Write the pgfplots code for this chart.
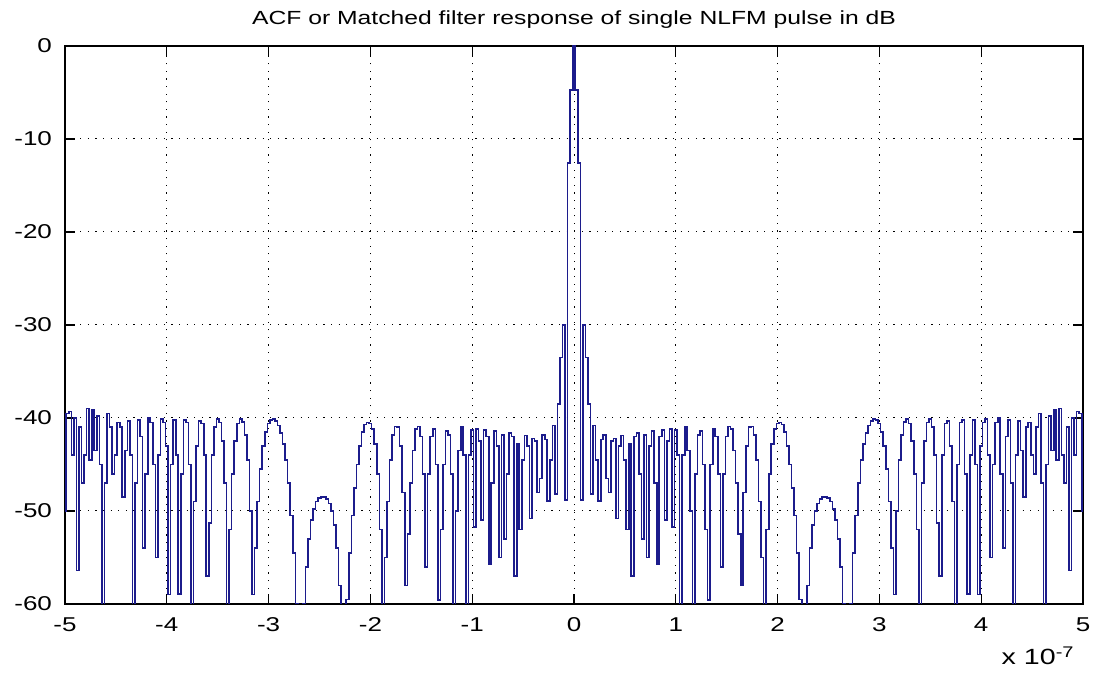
\documentclass[border=0pt]{standalone}
\usepackage{pgfplots}
\pgfplotsset{compat=1.18}
\usepackage{pgfplotstable}
\usepackage{fontspec}
\setmainfont{Liberation Sans}[FakeStretch=1.3]
\definecolor{matblue}{RGB}{28,28,140}

\pgfplotstableread{
xr xl y
0.000 -0.000 0
0.025 -0.025 -4.7
0.050 -0.050 -12.6
0.075 -0.075 -48.8
0.100 -0.100 -30.0
0.125 -0.125 -33.5
0.150 -0.150 -38.5
0.175 -0.175 -48.2
0.200 -0.200 -40.8
0.225 -0.225 -44.5
0.250 -0.250 -48.9
0.275 -0.275 -42.3
0.300 -0.300 -41.8
0.325 -0.325 -46.5
0.350 -0.350 -48.0
0.375 -0.375 -42.5
0.400 -0.400 -42.2
0.425 -0.425 -50.8
0.450 -0.450 -43.0
0.475 -0.475 -41.9
0.500 -0.500 -44.5
0.525 -0.525 -52.0
0.550 -0.550 -42.8
0.575 -0.575 -57.0
0.600 -0.600 -42.0
0.625 -0.625 -41.6
0.650 -0.650 -46.0
0.675 -0.675 -53.0
0.700 -0.700 -41.8
0.725 -0.725 -55.0
0.750 -0.750 -43.0
0.775 -0.775 -41.4
0.800 -0.800 -47.0
0.825 -0.825 -55.7
0.850 -0.850 -42.0
0.875 -0.875 -41.3
0.900 -0.900 -51.0
0.925 -0.925 -42.5
0.950 -0.950 -41.2
0.975 -0.975 -51.7
1.000 -1.000 -41.3
1.025 -1.025 -44.0
1.050 -1.050 -62.0
1.075 -1.075 -44.0
1.100 -1.100 -41.0
1.125 -1.125 -43.5
1.150 -1.150 -50.0
1.175 -1.175 -62.0
1.200 -1.200 -46.0
1.225 -1.225 -41.8
1.250 -1.250 -41.4
1.275 -1.275 -45.0
1.300 -1.300 -52.0
1.325 -1.325 -59.6
1.350 -1.350 -45.0
1.375 -1.375 -41.2
1.400 -1.400 -42.0
1.425 -1.425 -46.0
1.450 -1.450 -56.0
1.475 -1.475 -46.0
1.500 -1.500 -42.0
1.525 -1.525 -40.9
1.550 -1.550 -41.2
1.575 -1.575 -43.5
1.600 -1.600 -47.0
1.625 -1.625 -52.5
1.650 -1.650 -58.0
1.675 -1.675 -48.0
1.700 -1.700 -43.0
1.725 -1.725 -41.0
1.750 -1.750 -40.9
1.775 -1.775 -41.8
1.800 -1.800 -44.5
1.825 -1.825 -49.0
1.850 -1.850 -55.0
1.875 -1.875 -63.0
1.900 -1.900 -52.0
1.925 -1.925 -46.0
1.950 -1.950 -42.8
1.975 -1.975 -41.2
2.000 -2.000 -40.6
2.025 -2.025 -40.5
2.050 -2.050 -40.7
2.075 -2.075 -41.5
2.100 -2.100 -43.0
2.125 -2.125 -45.0
2.150 -2.150 -47.5
2.175 -2.175 -50.5
2.200 -2.200 -54.5
2.225 -2.225 -59.5
2.250 -2.250 -65.0
2.275 -2.275 -65.0
2.300 -2.300 -58.0
2.325 -2.325 -54.0
2.350 -2.350 -51.5
2.375 -2.375 -50.0
2.400 -2.400 -49.2
2.425 -2.425 -48.7
2.450 -2.450 -48.5
2.475 -2.475 -48.5
2.500 -2.500 -48.6
2.525 -2.525 -49.0
2.550 -2.550 -49.8
2.575 -2.575 -51.0
2.600 -2.600 -53.0
2.625 -2.625 -56.0
2.650 -2.650 -60.0
2.675 -2.675 -65.0
2.700 -2.700 -65.0
2.725 -2.725 -60.0
2.750 -2.750 -54.5
2.775 -2.775 -50.5
2.800 -2.800 -47.0
2.825 -2.825 -44.5
2.850 -2.850 -42.8
2.875 -2.875 -41.6
2.900 -2.900 -40.8
2.925 -2.925 -40.3
2.950 -2.950 -40.1
2.975 -2.975 -40.2
3.000 -3.000 -40.6
3.025 -3.025 -41.5
3.050 -3.050 -43.0
3.075 -3.075 -45.5
3.100 -3.100 -49.0
3.125 -3.125 -54.0
3.150 -3.150 -59.0
3.175 -3.175 -50.0
3.200 -3.200 -44.5
3.225 -3.225 -41.8
3.250 -3.250 -40.4
3.275 -3.275 -40.1
3.300 -3.300 -40.6
3.325 -3.325 -42.5
3.350 -3.350 -46.0
3.375 -3.375 -52.0
3.400 -3.400 -63.0
3.425 -3.425 -47.0
3.450 -3.450 -42.5
3.475 -3.475 -40.5
3.500 -3.500 -40.1
3.525 -3.525 -41.0
3.550 -3.550 -44.0
3.575 -3.575 -51.3
3.600 -3.600 -57.0
3.625 -3.625 -44.0
3.650 -3.650 -40.6
3.675 -3.675 -40.3
3.700 -3.700 -43.0
3.725 -3.725 -49.0
3.750 -3.750 -63.0
3.775 -3.775 -45.0
3.800 -3.800 -40.5
3.825 -3.825 -40.2
3.850 -3.850 -46.0
3.875 -3.875 -58.9
3.900 -3.900 -44.0
3.925 -3.925 -40.2
3.950 -3.950 -45.0
3.975 -3.975 -59.0
4.000 -4.000 -43.0
4.025 -4.025 -40.5
4.050 -4.050 -40.1
4.075 -4.075 -44.0
4.100 -4.100 -55.0
4.125 -4.125 -45.0
4.150 -4.150 -40.5
4.175 -4.175 -40.0
4.200 -4.200 -46.0
4.225 -4.225 -54.0
4.250 -4.250 -42.0
4.275 -4.275 -40.2
4.300 -4.300 -47.0
4.325 -4.325 -62.0
4.350 -4.350 -44.0
4.375 -4.375 -40.3
4.400 -4.400 -43.5
4.425 -4.425 -48.5
4.450 -4.450 -41.0
4.475 -4.475 -40.5
4.500 -4.500 -44.0
4.525 -4.525 -46.0
4.550 -4.550 -41.0
4.575 -4.575 -39.5
4.600 -4.600 -47.0
4.625 -4.625 -63.0
4.650 -4.650 -45.0
4.675 -4.675 -39.8
4.700 -4.700 -43.5
4.725 -4.725 -39.1
4.750 -4.750 -44.5
4.775 -4.775 -39.0
4.800 -4.800 -44.0
4.825 -4.825 -47.0
4.850 -4.850 -41.0
4.875 -4.875 -56.4
4.900 -4.900 -40.0
4.925 -4.925 -44.0
4.950 -4.950 -39.3
4.975 -4.975 -39.5
5.000 -5.000 -50.0
}\acf

\begin{document}
\begin{tikzpicture}
\path[use as bounding box] (-32.5pt,-35pt) rectangle (514.5pt,302pt);
\begin{axis}[
  at={(0,0)}, anchor=south west,
  scale only axis, width=509pt, height=279pt,
  xmin=-5, xmax=5, ymin=-60, ymax=0,
  xtick={-5,-4,...,5}, ytick={-60,-50,...,0},
  grid=major,
  major grid style={black, line width=0.5pt, dash pattern=on 0.6pt off 3.2pt},
  axis line style={black, line width=0.6pt},
  tick style={black, line width=0.6pt},
  major tick length=5pt,
  tick align=inside,
  font=\fontsize{10}{12}\selectfont,
  /pgf/number format/assume math mode=true,
  title={ACF or Matched filter response of single NLFM pulse in dB},
  every axis title/.style={at={(0.5,1)}, anchor=base, yshift=10.5pt, inner sep=0pt, font=\fontsize{9.5}{11}\selectfont},
  xticklabel style={yshift=-3.3pt},
  yticklabel style={xshift=-3pt},
  clip=true,
]
\addplot[matblue, line width=0.8pt, const plot mark mid] table[x=xr,y=y] {\acf};
\addplot[matblue, line width=0.8pt, const plot mark mid] table[x=xl,y=y] {\acf};
\end{axis}
\node[anchor=base east, inner sep=0pt, font=\fontsize{11}{13}\selectfont] at (505pt,-30.5pt) {x 10\textsuperscript{-7}};
\end{tikzpicture}
\end{document}
